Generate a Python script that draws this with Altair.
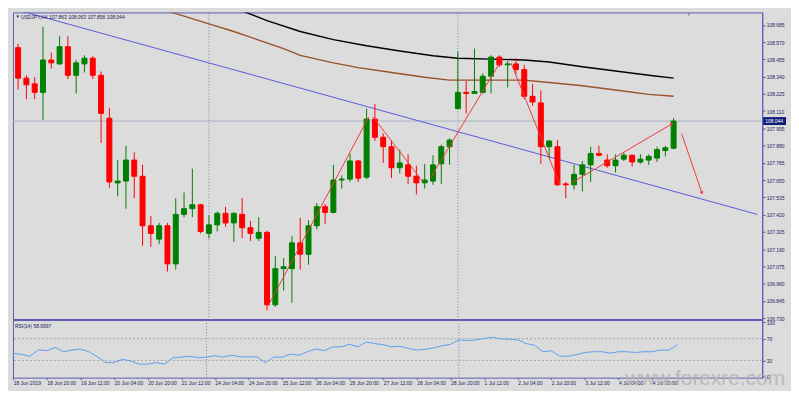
import altair as alt
import pandas as pd

# ---------------- data ----------------
bar_index = list(range(80))
opens = [108.533, 108.330, 108.292, 108.235, 108.451, 108.425, 108.540, 108.349, 108.425, 108.463,
         108.349, 108.063, 107.632, 107.644, 107.784, 107.676, 107.346, 107.257, 107.346, 107.092,
         107.422, 107.460, 107.486, 107.295, 107.352, 107.429, 107.365, 107.422, 107.333, 107.263,
         107.302, 106.819, 107.060, 107.060, 107.232, 107.156, 107.346, 107.473, 107.435, 107.651,
         107.657, 107.778, 107.670, 108.057, 107.936, 107.873, 107.733, 107.752, 107.676, 107.632,
         107.644, 107.759, 107.873, 108.127, 108.235, 108.228, 108.235, 108.343, 108.470, 108.419,
         108.425, 108.387, 108.209, 108.165, 107.873, 107.873, 107.625, 107.619, 107.689, 107.752,
         107.828, 107.784, 107.746, 107.790, 107.816, 107.771, 107.784, 107.797, 107.847, 107.863]
highs = [108.559, 108.349, 108.336, 108.673, 108.501, 108.609, 108.609, 108.451, 108.482, 108.476,
         108.374, 108.133, 107.784, 107.879, 107.835, 107.752, 107.410, 107.365, 107.365, 107.530,
         107.568, 107.727, 107.492, 107.416, 107.441, 107.473, 107.435, 107.530, 107.378, 107.403,
         107.314, 107.143, 107.130, 107.276, 107.397, 107.384, 107.498, 107.492, 107.752, 107.682,
         107.828, 107.784, 108.127, 108.159, 107.962, 107.917, 107.854, 107.822, 107.746, 107.759,
         107.816, 107.886, 107.930, 108.508, 108.311, 108.527, 108.362, 108.482, 108.482, 108.444,
         108.463, 108.419, 108.292, 108.248, 107.917, 107.917, 107.638, 107.752, 107.778, 107.873,
         107.879, 107.822, 107.822, 107.835, 107.822, 107.822, 107.822, 107.873, 107.879, 108.063]
lows = [108.254, 108.190, 108.190, 108.051, 108.393, 108.419, 108.324, 108.228, 108.368, 108.324,
        107.898, 107.600, 107.543, 107.460, 107.530, 107.213, 107.206, 107.225, 107.041, 107.054,
        107.403, 107.403, 107.295, 107.263, 107.308, 107.340, 107.238, 107.263, 107.244, 107.244,
        106.781, 106.806, 106.914, 106.832, 107.054, 107.086, 107.321, 107.359, 107.429, 107.594,
        107.638, 107.638, 107.657, 107.911, 107.765, 107.663, 107.695, 107.625, 107.555, 107.594,
        107.619, 107.625, 107.752, 108.121, 108.095, 108.228, 108.228, 108.228, 108.406, 108.267,
        108.355, 108.190, 108.146, 107.759, 107.797, 107.613, 107.530, 107.587, 107.574, 107.638,
        107.809, 107.733, 107.701, 107.778, 107.740, 107.759, 107.752, 107.771, 107.809, 107.856]
closes = [108.330, 108.286, 108.235, 108.451, 108.432, 108.540, 108.349, 108.432, 108.463, 108.349,
          108.095, 107.638, 107.644, 107.784, 107.676, 107.346, 107.295, 107.346, 107.092, 107.422,
          107.460, 107.486, 107.308, 107.352, 107.429, 107.365, 107.429, 107.333, 107.295, 107.302,
          106.819, 107.060, 107.073, 107.232, 107.156, 107.346, 107.473, 107.435, 107.651, 107.657,
          107.778, 107.663, 108.057, 107.936, 107.873, 107.733, 107.765, 107.676, 107.632, 107.651,
          107.752, 107.873, 107.917, 108.235, 108.228, 108.241, 108.343, 108.470, 108.419, 108.425,
          108.387, 108.209, 108.171, 107.873, 107.911, 107.619, 107.619, 107.689, 107.752, 107.828,
          107.816, 107.746, 107.784, 107.816, 107.771, 107.790, 107.809, 107.854, 107.866, 108.044]
rsi_values = [43, 41, 37.7, 49.3, 48, 54, 46, 49, 51, 46,
              37, 26, 26, 32, 29, 23, 23, 26, 23, 35,
              36, 37.7, 35, 36, 38.8, 36, 39.5, 36.5, 36.5, 36.5,
              26, 36, 36, 41.7, 39.5, 46, 51, 48, 55, 55,
              59.7, 55, 63.8, 61, 59, 55, 56, 52, 49, 50.4,
              53, 57, 59.7, 67.8, 66.6, 67.5, 70.5, 72.5, 69.8, 69,
              68, 61, 58, 46, 47.5, 37.7, 37.7, 40.5, 44.6, 46,
              46, 43.5, 46, 46, 44.6, 46, 46, 49, 49, 59]

black_ma_idx = [27, 30, 34, 38, 42, 46, 50, 53, 57, 61, 64, 68, 72, 76, 79]
black_ma_val = [108.778, 108.714, 108.641, 108.587, 108.546, 108.511, 108.479, 108.463,
                108.457, 108.451, 108.438, 108.406, 108.378, 108.349, 108.330]
brown_ma_idx = [18, 20, 23, 26, 29, 32, 34, 38, 41, 45, 49, 52, 57, 61, 64, 68, 72, 76, 79]
brown_ma_val = [108.778, 108.743, 108.692, 108.641, 108.584, 108.527, 108.482, 108.432, 108.400,
                108.368, 108.336, 108.317, 108.317, 108.317, 108.301, 108.279, 108.251, 108.222, 108.209]

trend_i = [0.0, 89.08]
trend_p = [108.783, 107.422]

seg_i1 = [30.14, 42.8, 49.75, 59.4, 66.7, 79.97]
seg_p1 = [106.813, 108.070, 107.670, 108.432, 107.632, 107.960]
seg_i2 = [42.25, 48.8, 58.05, 65.3, 78.73, 82.39]
seg_p2 = [108.070, 107.638, 108.432, 107.619, 108.023, 107.568]

week_separators = [23, 53]
current_price = 108.044
price_ticks = [106.730, 106.845, 106.960, 107.075, 107.190, 107.305, 107.420, 107.535, 107.650,
               107.765, 107.880, 107.995, 108.110, 108.225, 108.340, 108.455, 108.570, 108.685]
rsi_ticks = [0, 30, 70, 100]
rsi_levels = [30, 70]
time_label_idx = list(range(0, 80, 4))
time_labels = ["18 Jun 2019", "18 Jun 20:00", "19 Jun 12:00", "20 Jun 04:00", "20 Jun 20:00",
               "21 Jun 12:00", "24 Jun 04:00", "24 Jun 20:00", "25 Jun 12:00", "26 Jun 04:00",
               "26 Jun 20:00", "27 Jun 12:00", "28 Jun 04:00", "28 Jun 20:00", "1 Jul 12:00",
               "2 Jul 04:00", "2 Jul 20:00", "3 Jul 12:00", "4 Jul 04:00", "4 Jul 20:00"]
title_text = "USDJPY,H4  107.863 108.063 107.856 108.044"
rsi_text = "RSI(14) 58.9997"
watermark = "www.forexre.com"

# ---------------- styling ----------------
W = 755
H_MAIN = 310
H_RSI = 58
BG = "#dcdcdc"
BORDER = "#5c5cb0"
LABEL = "#22225e"
GREEN = "#008000"
RED = "#ff0000"
FONT = "Liberation Sans"

xs = alt.Scale(domain=[-0.02, 89.08], nice=False, zero=False)
ys = alt.Scale(domain=[106.7173, 108.7681], nice=False, zero=False)
rs = alt.Scale(domain=[-1.74, 104.3], nice=False, zero=False)

price_axis = alt.Axis(orient="right", values=price_ticks, format=".3f", labelFontSize=5,
                      labelFont=FONT, labelColor=LABEL, tickSize=3, tickColor=BORDER,
                      domainColor=BORDER, grid=False, title=None, labelPadding=1,
                      labelOverlap=False)
rsi_axis = alt.Axis(orient="right", values=rsi_ticks, format="d", labelFontSize=5,
                    labelFont=FONT, labelColor=LABEL, tickSize=3, tickColor=BORDER,
                    domainColor=BORDER, grid=False, title=None, labelPadding=1,
                    labelOverlap=False)
label_arr = "[" + ",".join("'" + t + "'" for t in time_labels) + "]"
time_axis = alt.Axis(values=time_label_idx, labelExpr=label_arr + "[round(datum.value/4)]",
                     labelAlign="left", labelBaseline="top", labelPadding=1, tickSize=2,
                     labelFontSize=5, labelFont=FONT, labelColor=LABEL, tickColor=BORDER,
                     domain=False, grid=False, title=None, labelOverlap=False, labelFlush=False)


def X(f):
    return alt.X(f, scale=xs, axis=None)


def Y(f):
    return alt.Y(f, scale=ys, axis=price_axis)


df = pd.DataFrame({"i": bar_index, "open": opens, "high": highs, "low": lows, "close": closes})
df["dir"] = ["up" if c >= o else "down" for o, c in zip(opens, closes)]
dir_scale = alt.Scale(domain=["up", "down"], range=[GREEN, RED])

sep_df = pd.DataFrame({"i": week_separators})
one = pd.DataFrame({"p": [current_price], "t": [f"{current_price:.3f}"]})

seps = alt.Chart(sep_df).mark_rule(strokeDash=[1, 2], color="#7c7cc4", strokeWidth=1).encode(x=X("i:Q"))
price_line = alt.Chart(one).mark_rule(color="#a9b1c6", strokeWidth=1).encode(y=Y("p:Q"))

black_ma = alt.Chart(pd.DataFrame({"i": black_ma_idx, "v": black_ma_val})).mark_line(
    color="#000000", strokeWidth=1.4, clip=True).encode(x=X("i:Q"), y=Y("v:Q"))
brown_ma = alt.Chart(pd.DataFrame({"i": brown_ma_idx, "v": brown_ma_val})).mark_line(
    color="#9a5228", strokeWidth=1.4, clip=True).encode(x=X("i:Q"), y=Y("v:Q"))
trend = alt.Chart(pd.DataFrame({"i": [trend_i[0]], "i2": [trend_i[1]],
                                "p": [trend_p[0]], "p2": [trend_p[1]]})).mark_rule(
    color="#5a5ae0", strokeWidth=1, clip=True).encode(x=X("i:Q"), x2="i2:Q", y=Y("p:Q"), y2="p2:Q")

wicks = alt.Chart(df).mark_rule(strokeWidth=1).encode(
    x=X("i:Q"), y=Y("low:Q"), y2="high:Q",
    color=alt.Color("dir:N", scale=dir_scale, legend=None))
bodies = alt.Chart(df).mark_bar(size=5, strokeWidth=1).encode(
    x=X("i:Q"), y=Y("open:Q"), y2="close:Q",
    color=alt.Color("dir:N", scale=dir_scale, legend=None),
    stroke=alt.Stroke("dir:N", scale=dir_scale, legend=None))

seg_df = pd.DataFrame({"i": seg_i1, "p": seg_p1, "i2": seg_i2, "p2": seg_p2})
segs = alt.Chart(seg_df).mark_rule(color="#f03838", strokeWidth=1).encode(
    x=X("i:Q"), x2="i2:Q", y=Y("p:Q"), y2="p2:Q")
arrow_e = alt.Chart(seg_df.iloc[[4]]).mark_point(shape="triangle", filled=True, size=14,
                                                 angle=59, color="#f03838", opacity=1).encode(
    x=X("i2:Q"), y=Y("p2:Q"))
arrow_f = alt.Chart(seg_df.iloc[[5]]).mark_point(shape="triangle", filled=True, size=14,
                                                 angle=162, color="#f03838", opacity=1).encode(
    x=X("i2:Q"), y=Y("p2:Q"))

title_df = pd.DataFrame({"t": [title_text]})
title_mark = alt.Chart(title_df).mark_text(align="left", baseline="middle", fontSize=5,
                                           font=FONT, color=LABEL).encode(
    text="t:N", x=alt.value(8), y=alt.value(4.5))
tri_mark = alt.Chart(pd.DataFrame({"t": ["\u25bc"]})).mark_text(
    align="left", baseline="middle", fontSize=4.5, color="#1a1a50").encode(
    text="t:N", x=alt.value(2.5), y=alt.value(4.5))
shift_mark = alt.Chart(pd.DataFrame({"t": ["\u25bc"]})).mark_text(
    align="center", baseline="top", fontSize=5, color="#8a8aa0").encode(
    text="t:N", x=alt.value(681), y=alt.value(0))

sep_thick = alt.Chart(pd.DataFrame({"a": [0]})).mark_rule(color=BORDER, strokeWidth=2).encode(
    x=alt.value(0), x2=alt.value(W), y=alt.value(H_MAIN))
box = alt.Chart(one).mark_rule(strokeWidth=8, color="#101c78").encode(
    x=alt.value(W + 1), x2=alt.value(W + 24), y=Y("p:Q"))
box_text = alt.Chart(one).mark_text(align="left", baseline="middle", fontSize=5, font=FONT,
                                    color="#ffffff").encode(
    x=alt.value(W + 3), y=Y("p:Q"), text="t:N")

main = alt.layer(seps, price_line, brown_ma, black_ma, trend, wicks, bodies, segs, arrow_e,
                 arrow_f, title_mark, tri_mark, shift_mark, sep_thick, box, box_text).properties(
    width=W, height=H_MAIN)

# ---------------- RSI panel ----------------
rsi_df = pd.DataFrame({"i": bar_index, "rsi": rsi_values})
rsi_line = alt.Chart(rsi_df).mark_line(color="#5c9ff0", strokeWidth=1).encode(
    x=alt.X("i:Q", scale=xs, axis=time_axis), y=alt.Y("rsi:Q", scale=rs, axis=rsi_axis))
lv = alt.Chart(pd.DataFrame({"lv": rsi_levels})).mark_rule(
    strokeDash=[2, 2], color="#a4a4a4", strokeWidth=1).encode(
    y=alt.Y("lv:Q", scale=rs, axis=rsi_axis))
rsi_seps = alt.Chart(sep_df).mark_rule(strokeDash=[1, 2], color="#7c7cc4", strokeWidth=1).encode(
    x=alt.X("i:Q", scale=xs, axis=time_axis))
rsi_lab = alt.Chart(pd.DataFrame({"t": [rsi_text]})).mark_text(
    align="left", baseline="middle", fontSize=5, font=FONT, color=LABEL).encode(
    text="t:N", x=alt.value(2), y=alt.value(6))
wm = alt.Chart(pd.DataFrame({"t": [watermark]})).mark_text(
    align="left", baseline="bottom", fontSize=21, font=FONT, color="#b4b4b4",
    opacity=0.85).encode(text="t:N", x=alt.value(617), y=alt.value(69))

rsi_chart = alt.layer(lv, rsi_seps, rsi_line, rsi_lab, wm).properties(width=W, height=H_RSI)

chart = alt.vconcat(main, rsi_chart, spacing=0, bounds="flush").properties(
    padding={"left": 2, "top": 2, "right": 0, "bottom": 0},
    background=BG,
).configure_view(stroke=BORDER, strokeWidth=1, fill=BG)

chart.save("out.html", embed_options={"renderer": "svg", "actions": False})
